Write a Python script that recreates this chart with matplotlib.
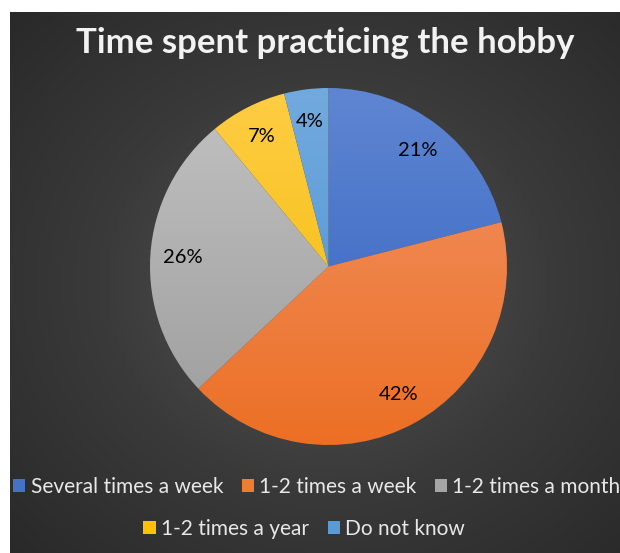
import numpy as np
import matplotlib.pyplot as plt
from matplotlib.patches import Patch
from matplotlib.colors import LinearSegmentedColormap

plt.rcParams['font.family'] = ['Lato', 'DejaVu Sans']

categories = ["Several times a week", "1-2 times a week", "1-2 times a month",
              "1-2 times a year", "Do not know"]
shares = [21, 42, 26, 7, 4]
# (light top, dark bottom) per slice
top_colors = ["#5f86d2", "#f2956a", "#c2c2c2", "#ffcd45", "#72aade"]
bottom_colors = ["#2f5fbe", "#ec6f24", "#9c9c9c", "#f2b900", "#4b8fd2"]
legend_colors = ["#4472c4", "#ed7d31", "#a5a5a5", "#ffc000", "#5b9bd5"]

W, H = 620, 553
fig = plt.figure(figsize=(W / 100, H / 100), dpi=100, facecolor="white")

# dark radial background
bg = fig.add_axes([10 / W, 0, (W - 10) / W, (H - 12) / H])
yy, xx = np.mgrid[0:1:300j, 0:1:340j]
r = np.sqrt(((xx - 0.52) / 0.75) ** 2 + ((yy - 0.5) / 0.75) ** 2)
bg_cmap = LinearSegmentedColormap.from_list("bg", ["#575757", "#3a3a3a", "#282828"])
bg.imshow(np.clip(r, 0, 1), cmap=bg_cmap, vmin=0, vmax=1, aspect="auto",
          extent=[0, 1, 0, 1], origin="lower")
bg.set_axis_off()

fig.text(325 / W, 1 - 43 / H, "Time spent practicing the hobby", color="#f2f2f2",
         fontsize=25, fontweight="bold", ha="center", va="center")

# pie
cx, cy, R = 328.5, 266.5, 178.5
ax = fig.add_axes([(cx - R) / W, 1 - (cy + R) / H, 2 * R / W, 2 * R / H])
wedges, texts, autotexts = ax.pie(shares, startangle=90, counterclock=False,
                                  autopct="%1.0f%%", pctdistance=0.82,
                                  colors=legend_colors,
                                  textprops=dict(fontsize=14.5, color="black"))
grad = np.linspace(0, 1, 256).reshape(-1, 1)
for w, c1, c2 in zip(wedges, top_colors, bottom_colors):
    cm = LinearSegmentedColormap.from_list("g", [c2, c1])
    im = ax.imshow(grad, cmap=cm, extent=[-1, 1, -1, 1], origin="lower",
                   aspect="auto", zorder=1)
    im.set_clip_path(w)
    w.set_facecolor("none")
ax.set_xlim(-1, 1)
ax.set_ylim(-1, 1)
for t in autotexts:
    t.set_zorder(5)

handles = [Patch(facecolor=c, edgecolor="none") for c in legend_colors]
leg_kw = dict(frameon=False, fontsize=15, labelcolor="#e8e8e8", handlelength=0.58,
              handleheight=0.58, handletextpad=0.25, columnspacing=0.9,
              loc="center", borderpad=0, borderaxespad=0)
fig.legend(handles[:3], categories[:3], ncol=3,
           bbox_to_anchor=(317 / W, 1 - 487 / H), **leg_kw)
fig.legend(handles[3:], categories[3:], ncol=2,
           bbox_to_anchor=(304 / W, 1 - 529 / H), **leg_kw)

fig.savefig("out.png", dpi=100, facecolor="white")
